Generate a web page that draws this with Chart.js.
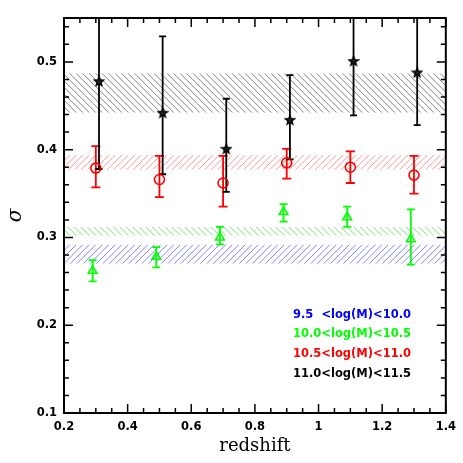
<!DOCTYPE html>
<html>
<head>
<meta charset="utf-8">
<script src="https://cdn.jsdelivr.net/npm/chart.js@4.4.1/dist/chart.umd.min.js"></script>
<style>
  html, body { margin: 0; padding: 0; background: #fff; }
</style>
</head>
<body>
<canvas id="sigmaChart" width="463" height="463"></canvas>
<script>
// legend / series
var seriesLabels = ['9.5  <log(M)<10.0', '10.0<log(M)<10.5', '10.5<log(M)<11.0', '11.0<log(M)<11.5'];
var seriesColors = ['#0000ff', '#00ff00', '#ff0000', '#000000'];

// 10.0<log(M)<10.5 (green triangles)
var greenZ = [0.29, 0.49, 0.69, 0.89, 1.09, 1.29];
var greenSigma = [0.262, 0.278, 0.300, 0.329, 0.323, 0.298];
var greenLow = [0.250, 0.266, 0.292, 0.318, 0.312, 0.269];
var greenHigh = [0.274, 0.289, 0.312, 0.338, 0.335, 0.332];

// 10.5<log(M)<11.0 (red circles)
var redZ = [0.30, 0.50, 0.70, 0.90, 1.10, 1.30];
var redSigma = [0.379, 0.366, 0.362, 0.385, 0.380, 0.371];
var redLow = [0.357, 0.346, 0.335, 0.367, 0.362, 0.350];
var redHigh = [0.404, 0.393, 0.393, 0.401, 0.398, 0.393];

// 11.0<log(M)<11.5 (black stars)
var blackZ = [0.31, 0.51, 0.71, 0.91, 1.11, 1.31];
var blackSigma = [0.478, 0.442, 0.401, 0.434, 0.501, 0.488];
var blackLow = [0.378, 0.372, 0.352, 0.389, 0.439, 0.428];
var blackHigh = [0.60, 0.529, 0.458, 0.485, 0.60, 0.60];

// hatched bands [low, high]
var blueBand = [0.270, 0.292];
var greenBand = [0.302, 0.312];
var redBand = [0.377, 0.394];
var blackBand = [0.442, 0.487];

// axes
var xTicks = [0.2, 0.4, 0.6, 0.8, 1.0, 1.2, 1.4];
var xTickLabels = ['0.2', '0.4', '0.6', '0.8', '1', '1.2', '1.4'];
var yTicks = [0.1, 0.2, 0.3, 0.4, 0.5];
var yTickLabels = ['0.1', '0.2', '0.3', '0.4', '0.5'];

function toPoints(xs, ys) {
  return xs.map(function (x, i) { return { x: x, y: ys[i] }; });
}

function makeStar() {
  var c = document.createElement('canvas');
  c.width = 12; c.height = 12;
  var g = c.getContext('2d');
  g.beginPath();
  for (var i = 0; i < 10; i++) {
    var r = i % 2 === 0 ? 4.8 : 2.1;
    var a = -Math.PI / 2 + i * Math.PI / 5;
    var px = 6 + r * Math.cos(a), py = 6.4 + r * Math.sin(a);
    if (i === 0) g.moveTo(px, py); else g.lineTo(px, py);
  }
  g.closePath();
  g.fillStyle = '#222';
  g.fill();
  g.lineWidth = 1.4;
  g.strokeStyle = '#000';
  g.stroke();
  return c;
}

var bands = [
  { range: blueBand, color: 'rgba(80,80,255,0.7)', forward: true },
  { range: greenBand, color: 'rgba(60,220,60,0.7)', forward: false },
  { range: redBand, color: 'rgba(255,80,80,0.6)', forward: true },
  { range: blackBand, color: 'rgba(80,80,80,0.7)', forward: false }
];

var errorSets = [
  { xs: greenZ, lo: greenLow, hi: greenHigh, color: seriesColors[1], cap: 4 },
  { xs: redZ, lo: redLow, hi: redHigh, color: seriesColors[2], cap: 4.5 },
  { xs: blackZ, lo: blackLow, hi: blackHigh, color: seriesColors[3], cap: 3.5 }
];

var extrasPlugin = {
  id: 'extras',
  beforeDatasetsDraw: function (chart) {
    var ctx = chart.ctx, area = chart.chartArea;
    var xs = chart.scales.x, ys = chart.scales.y;
    // hatched bands
    bands.forEach(function (b) {
      var top = ys.getPixelForValue(b.range[1]);
      var bot = ys.getPixelForValue(b.range[0]);
      var h = bot - top;
      ctx.save();
      ctx.beginPath();
      ctx.rect(area.left, top, area.right - area.left, h);
      ctx.clip();
      ctx.strokeStyle = b.color;
      ctx.lineWidth = 1;
      ctx.beginPath();
      for (var x0 = area.left - h - 7; x0 < area.right + 7; x0 += 6.5) {
        if (b.forward) { ctx.moveTo(x0, bot); ctx.lineTo(x0 + h, top); }
        else { ctx.moveTo(x0, top); ctx.lineTo(x0 + h, bot); }
      }
      ctx.stroke();
      ctx.restore();
    });
    // error bars
    ctx.save();
    ctx.beginPath();
    ctx.rect(area.left, area.top, area.right - area.left, area.bottom - area.top);
    ctx.clip();
    errorSets.forEach(function (e) {
      ctx.strokeStyle = e.color;
      ctx.lineWidth = 1.8;
      e.xs.forEach(function (x, i) {
        var px = xs.getPixelForValue(x);
        var pl = ys.getPixelForValue(e.lo[i]);
        var ph = ys.getPixelForValue(e.hi[i]);
        ctx.beginPath();
        ctx.moveTo(px, pl); ctx.lineTo(px, ph);
        ctx.moveTo(px - e.cap, pl); ctx.lineTo(px + e.cap, pl);
        ctx.moveTo(px - e.cap, ph); ctx.lineTo(px + e.cap, ph);
        ctx.stroke();
      });
    });
    ctx.restore();
  },
  afterDraw: function (chart) {
    var ctx = chart.ctx, area = chart.chartArea;
    var xs = chart.scales.x, ys = chart.scales.y;
    ctx.save();
    // ticks on all four sides, pointing inward
    ctx.strokeStyle = '#000';
    ctx.lineWidth = 1.5;
    ctx.beginPath();
    var k, v, p, len;
    for (k = 0; k <= 24; k++) {
      v = 0.2 + k * 0.05;
      p = xs.getPixelForValue(v);
      len = k % 4 === 0 ? 9 : 5;
      ctx.moveTo(p, area.bottom); ctx.lineTo(p, area.bottom - len);
      ctx.moveTo(p, area.top); ctx.lineTo(p, area.top + len);
    }
    for (k = 0; k <= 22; k++) {
      v = 0.1 + k * 0.02;
      p = ys.getPixelForValue(v);
      len = k % 5 === 0 ? 9 : 5;
      ctx.moveTo(area.left, p); ctx.lineTo(area.left + len, p);
      ctx.moveTo(area.right, p); ctx.lineTo(area.right - len, p);
    }
    ctx.stroke();
    // frame
    ctx.lineWidth = 2;
    ctx.strokeRect(area.left, area.top, area.right - area.left, area.bottom - area.top);
    // legend text
    ctx.font = 'bold 11.5px "DejaVu Sans", sans-serif';
    ctx.textBaseline = 'middle';
    ctx.textAlign = 'left';
    var legendY = [315, 334, 354, 374];
    seriesLabels.forEach(function (label, i) {
      ctx.fillStyle = seriesColors[i];
      ctx.fillText(label, 293, legendY[i]);
    });
    ctx.restore();
  }
};

var ctx = document.getElementById('sigmaChart').getContext('2d');

var sigmaChart = new Chart(ctx, {
  type: 'scatter',
  data: {
    datasets: [
      {
        label: seriesLabels[1],
        data: toPoints(greenZ, greenSigma),
        pointStyle: 'triangle',
        pointRadius: 5,
        borderColor: seriesColors[1],
        backgroundColor: 'rgba(0,0,0,0)',
        borderWidth: 1.6
      },
      {
        label: seriesLabels[2],
        data: toPoints(redZ, redSigma),
        pointStyle: 'circle',
        pointRadius: 5,
        borderColor: seriesColors[2],
        backgroundColor: 'rgba(0,0,0,0)',
        borderWidth: 1.6
      },
      {
        label: seriesLabels[3],
        data: toPoints(blackZ, blackSigma),
        pointStyle: makeStar(),
        pointRadius: 5,
        borderColor: seriesColors[3]
      }
    ]
  },
  options: {
    responsive: false,
    animation: false,
    layout: { padding: { top: 18, right: 17, left: 0, bottom: 0 } },
    plugins: {
      legend: { display: false },
      tooltip: { enabled: false }
    },
    scales: {
      x: {
        type: 'linear',
        min: 0.2,
        max: 1.4,
        grid: { display: false, drawTicks: false },
        border: { display: false },
        afterBuildTicks: function (s) { s.ticks = xTicks.map(function (t) { return { value: t }; }); },
        afterFit: function (s) { s.height = 50; },
        ticks: {
          padding: 7,
          color: '#000',
          maxRotation: 0,
          font: { family: '"DejaVu Sans", sans-serif', size: 11.5, weight: 'bold' },
          callback: function (val, i) { return xTickLabels[i]; }
        },
        title: {
          display: true,
          text: 'redshift',
          color: '#000',
          font: { family: '"DejaVu Serif", serif', size: 18 },
          padding: { top: 0, bottom: 6 }
        }
      },
      y: {
        type: 'linear',
        min: 0.1,
        max: 0.55,
        grid: { display: false, drawTicks: false },
        border: { display: false },
        afterBuildTicks: function (s) { s.ticks = yTicks.map(function (t) { return { value: t }; }); },
        afterFit: function (s) { s.width = 64; },
        ticks: {
          padding: 7,
          color: '#000',
          font: { family: '"DejaVu Sans", sans-serif', size: 11.5, weight: 'bold' },
          callback: function (val, i) { return yTickLabels[i]; }
        },
        title: {
          display: true,
          text: 'σ',
          color: '#000',
          font: { family: '"DejaVu Serif", serif', size: 20, style: 'italic' },
          padding: { top: 4, bottom: 0 }
        }
      }
    }
  },
  plugins: [extrasPlugin]
});
</script>
</body>
</html>
